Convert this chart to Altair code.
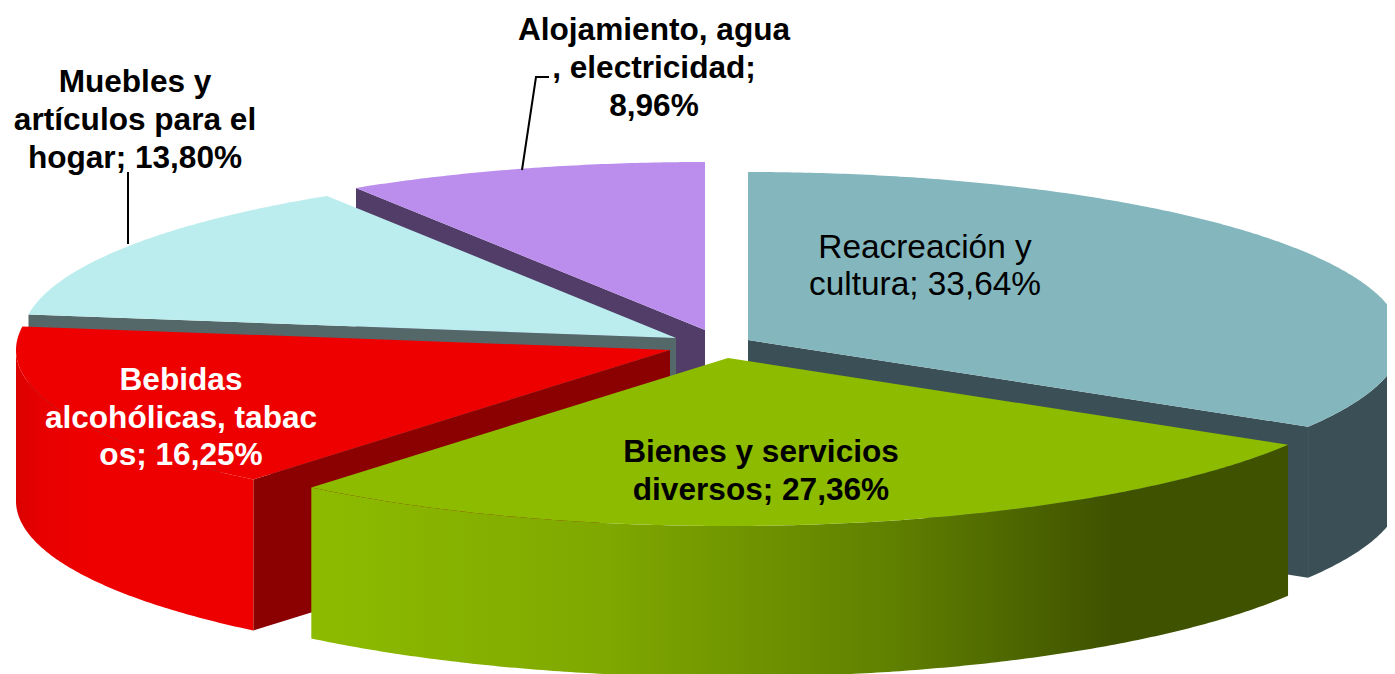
import math
import altair as alt
import pandas as pd

# ---- data -------------------------------------------------------------
categories = ["Reacreación y cultura", "Bienes y servicios diversos",
              "Bebidas alcohólicas, tabacos", "Muebles y artículos para el hogar",
              "Alojamiento, agua, electricidad"]
values = [33.64, 27.36, 16.25, 13.80, 8.96]

label_lines = [
    ["Reacreación y", "cultura; 33,64%"],
    ["Bienes y servicios", "diversos; 27,36%"],
    ["Bebidas", "alcohólicas, tabac", "os; 16,25%"],
    ["Muebles y", "artículos para el", "hogar; 13,80%"],
    ["Alojamiento, agua", ", electricidad;", "8,96%"],
]

# ---- drawing geometry (separate from the values) ------------------------
RX, RY, DEPTH = 654, 168, 151
apex = [(748, 340), (728, 358), (670, 350), (676, 338), (705, 330)]
top_col = ["#83B7BD", "#8DBB00", "#EE0000", "#BCEDEE", "#BB8EEE"]
cut_col = ["#3A5056", "#3F5200", "#8B0000", "#546769", "#523D69"]
label_xy = [(925, 248, 37), (761, 453, 38), (181, 381, 37.5), (135, 83, 38), (654, 31, 38)]
label_col = ["black", "black", "white", "black", "black"]
label_size = [33.4, 31.6, 31.6, 31.6, 31.6]
label_weight = ["normal", "bold", "bold", "bold", "bold"]
W, H = 1379, 666
X_SCALE = alt.Scale(domain=[8, 8 + W], range=[0, W], nice=False, zero=False)
Y_SCALE = alt.Scale(domain=[8, 8 + H], range=[0, H], nice=False, zero=False)

grad = lambda stops: alt.Gradient(
    gradient="linear", x1=0, x2=1, y1=0, y2=0,
    stops=[alt.GradientStop(offset=o, color=c) for o, c in stops])
wall_fill = [
    "#3A5056",
    grad([(0, "#8DBB00"), (0.3, "#7FA800"), (0.6, "#5F7F00"), (0.82, "#3F5200"), (1, "#3F5200")]),
    grad([(0, "#DC0000"), (0.12, "#E80000"), (0.3, "#EE0000"), (1, "#EE0000")]),
    "#546769",
    "#523D69",
]

total = sum(values)
angles, acc = [], 0.0
for v in values:
    angles.append((acc, acc + v / total * 360))
    acc += v / total * 360


def rim(i, theta, drop=0):
    cx, cy = apex[i]
    t = math.radians(theta)
    return cx + RX * math.sin(t), cy - RY * math.cos(t) + drop


def arc(i, a, b, drop=0):
    n = max(2, int(abs(b - a)) * 2)
    return [rim(i, a + (b - a) * k / n, drop) for k in range(n + 1)]


def polygon(points, fill):
    pts = list(points) + [points[0]]
    df = pd.DataFrame({"x": [p[0] for p in pts], "y": [p[1] for p in pts],
                       "o": list(range(len(pts)))})
    return alt.Chart(df).mark_line(fill=fill, stroke=None, strokeWidth=0, clip=True).encode(
        x=alt.X("x:Q", scale=X_SCALE, axis=None),
        y=alt.Y("y:Q", scale=Y_SCALE, axis=None),
        order="o:Q",
    )


# which radial cut face of each slice turns towards the viewer: 0 = start, 1 = end
visible_cut = {0: 1, 2: 0, 3: 0, 4: 0}


def slice_layers(i):
    a, b = angles[i]
    out = []
    cx, cy = apex[i]
    if i in visible_cut:
        e = rim(i, (a, b)[visible_cut[i]])
        out.append(polygon([(cx, cy), e, (e[0], e[1] + DEPTH), (cx, cy + DEPTH)], cut_col[i]))
    # outer wall, only where it faces the viewer
    wa, wb = max(a, 90), min(b, 270)
    if wa < wb:
        out.append(polygon(arc(i, wa, wb) + arc(i, wb, wa, DEPTH), wall_fill[i]))
    # top
    out.append(polygon([(cx, cy)] + arc(i, a, b), top_col[i]))
    return out


layers = []
for i in [0, 4, 3, 2, 1]:
    layers += slice_layers(i)

# leader lines
leaders = [
    [(128, 172), (128, 244)],
    [(549, 77), (536, 77), (522, 170)],
]
for pts in leaders:
    df = pd.DataFrame({"x": [p[0] for p in pts], "y": [p[1] for p in pts], "o": range(len(pts))})
    layers.append(alt.Chart(df).mark_line(color="black", strokeWidth=2).encode(
        x=alt.X("x:Q", scale=X_SCALE, axis=None),
        y=alt.Y("y:Q", scale=Y_SCALE, axis=None),
        order="o:Q"))

# labels
for i, lines in enumerate(label_lines):
    lx, ly, lh = label_xy[i]
    df = pd.DataFrame({"x": [lx] * len(lines), "y": [ly + k * lh for k in range(len(lines))], "t": lines})
    layers.append(alt.Chart(df).mark_text(
        font="Liberation Sans", fontSize=label_size[i], fontWeight=label_weight[i],
        color=label_col[i], baseline="middle", align="center").encode(
        x=alt.X("x:Q", scale=X_SCALE, axis=None),
        y=alt.Y("y:Q", scale=Y_SCALE, axis=None),
        text="t:N"))

chart = alt.layer(*layers).properties(
    width=W, height=H, padding=0, background="white",
    autosize=alt.AutoSizeParams(type="none"),
).configure_view(stroke=None)

chart.save("out.html", embed_options={"renderer": "svg", "actions": False})
